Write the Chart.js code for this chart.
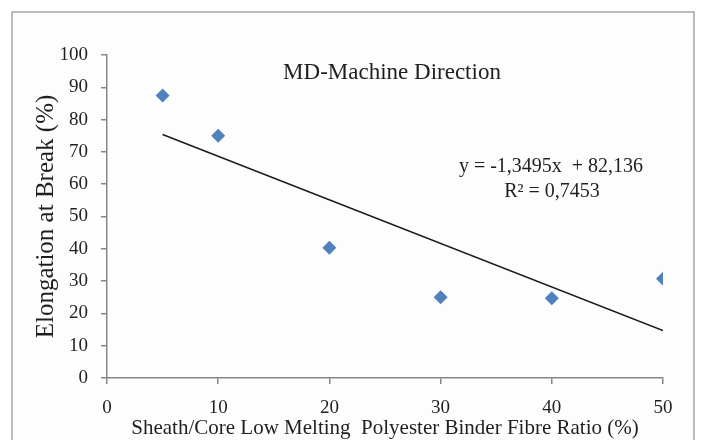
<!DOCTYPE html>
<html>
<head>
<meta charset="utf-8">
<script src="https://cdn.jsdelivr.net/npm/chart.js@4.4.1/dist/chart.umd.min.js"></script>
<style>
  html, body { margin: 0; padding: 0; background: #fff; }
  #wrap { position: relative; width: 701px; height: 440px; }
</style>
</head>
<body>
<div id="wrap"><canvas id="chart" width="701" height="440"></canvas></div>
<script>
(function () {
  "use strict";

  // measured points
  const ratioX = [5, 10, 20, 30, 40, 50];
  const elongationY = [87.5, 75, 40.3, 25, 24.7, 30.7];

  // linear trendline ends (x = 5 and x = 50)
  const trendX = [5, 50];
  const trendY = [75.4, 14.7];

  const xTicks = [0, 10, 20, 30, 40, 50];
  const yTicks = [0, 10, 20, 30, 40, 50, 60, 70, 80, 90, 100];

  const titleText = "MD-Machine Direction";
  const eqText = ["y = -1,3495x  + 82,136", "R\u00b2 = 0,7453"];

  const SERIF = "'Liberation Serif', 'Times New Roman', serif";
  const AXIS = "#868686";
  const INK = "#1f1f1f";

  function pairs(xs, ys) {
    return xs.map((x, i) => ({ x: x, y: ys[i] }));
  }

  // frame + annotation texts
  const decor = {
    id: "decor",
    beforeDraw(chart) {
      const ctx = chart.ctx;
      ctx.save();
      ctx.fillStyle = "#fdfdfd";
      ctx.fillRect(12, 12, 682, 440);
      ctx.strokeStyle = "#a6a6a6";
      ctx.lineWidth = 1.5;
      ctx.strokeRect(12, 12, 682, 440);
      ctx.restore();
    },
    afterDraw(chart) {
      const ctx = chart.ctx;
      ctx.save();
      ctx.fillStyle = INK;
      ctx.textAlign = "center";
      ctx.textBaseline = "middle";
      ctx.font = "23px " + SERIF;
      ctx.fillText(titleText, 392, 73);
      ctx.font = "20px " + SERIF;
      ctx.fillText(eqText[0], 551, 167);
      ctx.fillText(eqText[1], 552, 192);
      ctx.restore();
    }
  };

  document.addEventListener("DOMContentLoaded", function () {
    const el = document.getElementById("chart");
    new Chart(el, {
      type: "scatter",
      data: {
        datasets: [
          {
            label: "Elongation",
            data: pairs(ratioX, elongationY),
            pointStyle: "rectRot",
            pointRadius: 7,
            pointHoverRadius: 7,
            backgroundColor: "#4f81bd",
            borderColor: "#4f81bd",
            borderWidth: 0
          },
          {
            type: "line",
            label: "Trend",
            data: pairs(trendX, trendY),
            borderColor: "#1a1a1a",
            borderWidth: 1.5,
            pointRadius: 0,
            fill: false
          }
        ]
      },
      options: {
        responsive: false,
        animation: false,
        events: [],
        layout: { padding: { top: 55, right: 38, left: 0, bottom: 0 } },
        plugins: {
          legend: { display: false },
          tooltip: { enabled: false }
        },
        scales: {
          x: {
            type: "linear",
            min: 0,
            max: 50,
            afterBuildTicks(s) { s.ticks = xTicks.map(v => ({ value: v })); },
            afterFit(s) { s.height = 62; },
            border: { color: AXIS, width: 1.5 },
            grid: { drawOnChartArea: false, color: AXIS, tickLength: 6, lineWidth: 1.5 },
            ticks: { color: INK, padding: 13, maxRotation: 0, font: { family: SERIF, size: 19 } },
            title: {
              display: true,
              text: "Sheath/Core Low Melting  Polyester Binder Fibre Ratio (%)",
              color: INK,
              font: { family: SERIF, size: 21 },
              padding: { top: 0, bottom: -1 }
            }
          },
          y: {
            min: 0,
            max: 100,
            afterBuildTicks(s) { s.ticks = yTicks.map(v => ({ value: v })); },
            afterFit(s) { s.width = 107; },
            border: { color: AXIS, width: 1.5 },
            grid: { drawOnChartArea: false, color: AXIS, tickLength: 6, lineWidth: 1.5 },
            ticks: { color: INK, padding: 13, font: { family: SERIF, size: 19 } },
            title: {
              display: true,
              text: "Elongation at Break (%)",
              color: INK,
              font: { family: SERIF, size: 25 },
              padding: { top: 31, bottom: 0 }
            }
          }
        }
      },
      plugins: [decor]
    });
  });
})();
</script>
</body>
</html>
